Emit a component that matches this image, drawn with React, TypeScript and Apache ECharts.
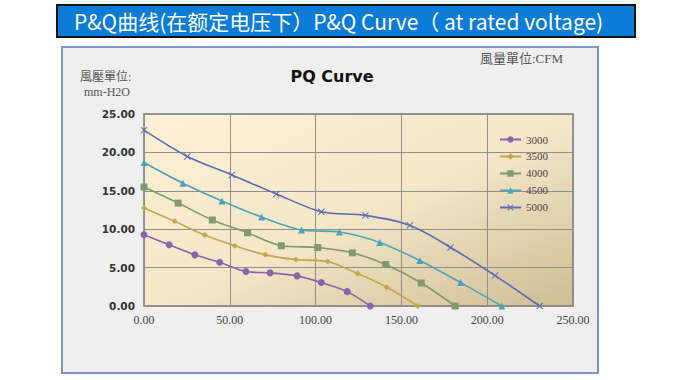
import React, { useEffect, useRef } from "react";
import * as echarts from "echarts";

const speeds = ["3000", "3500", "4000", "4500", "5000"];
const colors = ["#8b62ad", "#c6a54c", "#7f9b69", "#4ba4b9", "#5a6cb6"];
const symbols = [
  "circle",
  "diamond",
  "rect",
  "triangle",
  "path://M0,1L1,0L5,4L9,0L10,1L6,5L10,9L9,10L5,6L1,10L0,9L4,5Z",
];
const symbolSizes = [7, 6, 7, 7, 7];

const flow3000 = [0, 14.7, 29.6, 44.1, 59.4, 73.5, 89.2, 103.3, 118.4, 131.8];
const pres3000 = [9.28, 7.97, 6.66, 5.7, 4.49, 4.31, 3.92, 3.05, 1.87, 0];
const flow3500 = [0, 17.9, 35.4, 52.9, 70.7, 88.6, 107, 124.5, 141.5, 159.5];
const pres3500 = [12.76, 11.02, 9.23, 7.84, 6.66, 6.05, 5.79, 4.22, 2.44, 0];
const flow4000 = [0, 19.9, 39.8, 60.3, 80, 101.3, 121.4, 140.9, 161.6, 181.3];
const pres4000 = [15.5, 13.4, 11.2, 9.54, 7.84, 7.62, 6.92, 5.4, 3.0, 0];
const flow4500 = [0, 22.7, 45.4, 68.5, 91.8, 113.9, 137.4, 160.7, 184.5, 208.5];
const pres4500 = [18.68, 15.98, 13.68, 11.58, 9.89, 9.63, 8.28, 5.92, 3.05, 0];
const flow5000 = [0, 25.3, 51.2, 77.1, 103.3, 129, 154.9, 178.7, 204.6, 230.6];
const pres5000 = [22.9, 19.47, 17.07, 14.59, 12.28, 11.8, 10.5, 7.62, 3.96, 0];

const flows = [flow3000, flow3500, flow4000, flow4500, flow5000];
const pressures = [pres3000, pres3500, pres4000, pres4500, pres5000];

const xTicks = [0, 50, 100, 150, 200, 250];
const yTicks = [0, 5, 10, 15, 20, 25];

const bannerText = "P&Q曲线(在额定电压下）P&Q Curve（ at rated voltage)";
const chartTitle = "PQ Curve";
const yUnit1 = "風壓單位:";
const yUnit2 = "mm-H2O";
const xUnit = "風量單位:CFM";

export default function App() {
  const ref = useRef<HTMLDivElement>(null);
  useEffect(() => {
    if (!ref.current) return;
    const chart = echarts.init(ref.current, null, { renderer: "svg" });
    const serif = "'Liberation Serif', 'DejaVu Serif', 'Noto Sans CJK TC', serif";
    chart.setOption({
      animation: false,
      backgroundColor: "#ffffff",
      graphic: [
        {
          type: "rect",
          z: -10,
          shape: { x: 62, y: 47, width: 536, height: 326 },
          style: { fill: "#efefef", stroke: "#7f97c2", lineWidth: 2 },
        },
        {
          type: "rect",
          shape: { x: 57, y: 5, width: 578, height: 32 },
          style: { fill: "#0b7bd8", stroke: "#111111", lineWidth: 2 },
        },
        {
          type: "text",
          x: 74,
          y: 21,
          style: {
            text: bannerText,
            fill: "#ffffff",
            font: "21px 'Noto Sans CJK SC', 'Noto Sans', sans-serif",
            verticalAlign: "middle",
          },
        },
        {
          type: "text",
          x: 332,
          y: 76,
          style: {
            text: chartTitle,
            fill: "#111111",
            font: "bold 16px 'DejaVu Sans', Verdana, sans-serif",
            align: "center",
            verticalAlign: "middle",
          },
        },
        {
          type: "text",
          x: 80,
          y: 77,
          style: {
            text: yUnit1,
            fill: "#555555",
            font: "12px " + serif,
            verticalAlign: "middle",
          },
        },
        {
          type: "text",
          x: 84,
          y: 92,
          style: {
            text: yUnit2,
            fill: "#555555",
            font: "12px " + serif,
            verticalAlign: "middle",
          },
        },
        {
          type: "text",
          x: 480,
          y: 58,
          style: {
            text: xUnit,
            fill: "#555555",
            font: "13px " + serif,
            verticalAlign: "middle",
          },
        },
      ],
      legend: {
        orient: "vertical",
        left: 494,
        top: 129,
        itemGap: 6,
        itemWidth: 21,
        itemHeight: 8,
        textStyle: { fontFamily: serif, fontSize: 11, color: "#444" },
        data: speeds,
      },
      grid: {
        left: 144,
        top: 114,
        right: 107,
        bottom: 74,
        show: true,
        borderColor: "#7a7a7a",
        borderWidth: 1.5,
        backgroundColor: new echarts.graphic.LinearGradient(0, 0, 1, 1, [
          { offset: 0, color: "#fdf0d4" },
          { offset: 0.5, color: "#f5e8c9" },
          { offset: 1, color: "#cfbd93" },
        ]),
      },
      xAxis: {
        type: "value",
        min: xTicks[0],
        max: xTicks[xTicks.length - 1],
        interval: 50,
        axisLine: { show: false },
        axisTick: { show: false },
        splitLine: { show: true, lineStyle: { color: "#8f8f8f", width: 1 } },
        axisLabel: {
          formatter: (v: number) => v.toFixed(2),
          fontFamily: serif,
          fontSize: 12,
          color: "#444",
          margin: 8,
        },
      },
      yAxis: {
        type: "value",
        min: yTicks[0],
        max: yTicks[yTicks.length - 1],
        interval: 5,
        axisLine: { show: false },
        axisTick: { show: false },
        splitLine: { show: true, lineStyle: { color: "#8f8f8f", width: 1 } },
        axisLabel: {
          formatter: (v: number) => v.toFixed(2),
          fontFamily: "'DejaVu Sans', sans-serif",
          fontWeight: "bold",
          fontSize: 10.5,
          color: "#333",
          margin: 9,
        },
      },
      series: speeds.map((name, i) => ({
        name,
        type: "line",
        smooth: 0.3,
        symbol: symbols[i],
        symbolSize: symbolSizes[i],
        showSymbol: true,
        lineStyle: { color: colors[i], width: 1.6 },
        itemStyle: { color: colors[i] },
        data: flows[i].map((x, j) => [x, pressures[i][j]]),
      })),
    });
    return () => chart.dispose();
  }, []);
  return (
    <div
      ref={ref}
      style={{ position: "absolute", left: 0, top: 0, width: 680, height: 380 }}
    />
  );
}
